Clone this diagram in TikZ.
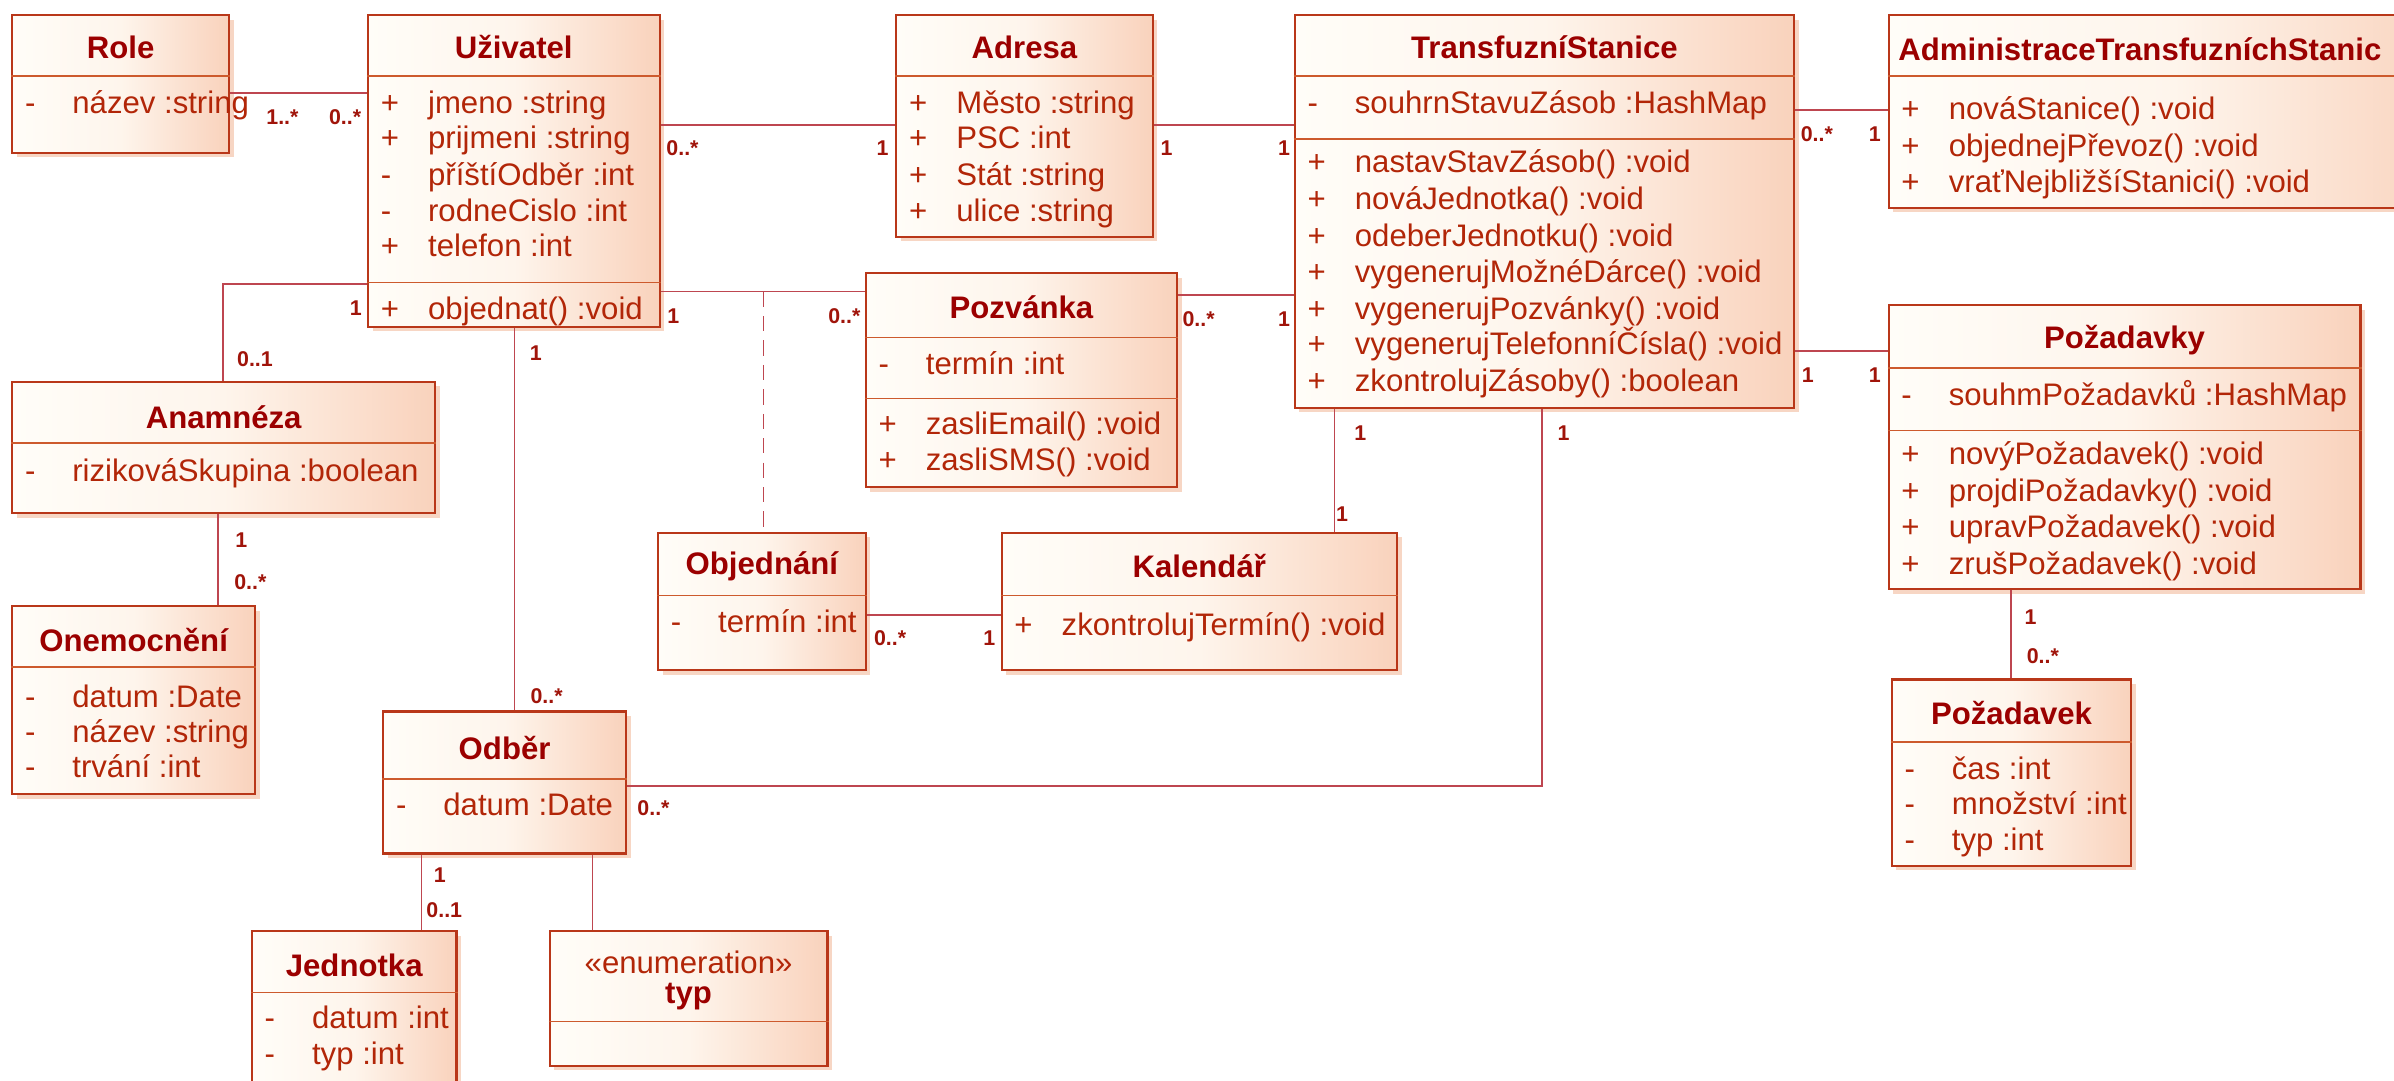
\documentclass[tikz,border=0pt]{standalone}
\usepackage{fontspec}
\setmainfont{Liberation Sans}
\usetikzlibrary{fit,calc}
\definecolor{boxborder}{RGB}{185,55,25}
\definecolor{sepc}{RGB}{205,90,45}
\definecolor{memc}{RGB}{178,38,8}
\definecolor{titlec}{RGB}{155,0,0}
\definecolor{linec}{RGB}{190,70,80}
\definecolor{multc}{RGB}{160,20,10}
\definecolor{creamc}{RGB}{255,253,248}
\definecolor{midc}{RGB}{254,245,236}
\definecolor{peachc}{RGB}{249,210,188}
\definecolor{shadowc}{RGB}{247,214,196}
\tikzset{
  classbox/.style={draw=boxborder, line width=0.7pt, inner sep=0pt,
    left color=creamc, right color=peachc, middle color=midc},
  sepline/.style={draw=sepc, line width=0.6pt},
  assoc/.style={draw=linec, line width=0.55pt},
  ctitle/.style={inner sep=0pt, text=titlec, font=\fontsize{10.2}{12}\selectfont\bfseries},
  cstereo/.style={inner sep=0pt, text=memc, font=\fontsize{10.2}{12}\selectfont},
  msign/.style={inner sep=0pt, anchor=west, text height=7.4pt, text depth=2.1pt,
    text=memc, font=\fontsize{10.2}{12}\selectfont},
  mtext/.style={inner sep=0pt, anchor=west, text height=7.4pt, text depth=2.1pt,
    text=memc, font=\fontsize{10.2}{12}\selectfont},
  mult/.style={inner sep=0pt, text=multc, font=\fontsize{7}{8}\selectfont\bfseries},
}
\newcommand\cbox[5]{%
  \fill[shadowc] (#2+3,#3+3) rectangle (#4+3,#5+3);
  \node[classbox, fit={(#2,#3) (#4,#5)}] (#1) {};}
\newcommand\csep[2]{\draw[sepline] (#1.west |- 0,#2) -- (#1.east |- 0,#2);}
\newcommand\mem[5]{\node[msign] (#1s) at (#2,#4) {#3};\node[mtext] (#1t) at (#2+31,#4) {#5};}
\begin{document}
\begin{tikzpicture}[x=0.5pt,y=-0.5pt]
\useasboundingbox (0,0) rectangle (1568,708);
\fill[white] (0,0) rectangle (1568,708);
\clip (0,0) rectangle (1568,708);

% shadows and box bodies
\cbox{role}{8}{10}{150}{100}
\cbox{uziv}{241}{10}{432}{214}
\cbox{adresa}{587}{10}{755}{155}
\cbox{ts}{848}{10}{1175}{267}
\cbox{admin}{1237}{10}{1610}{136}
\cbox{pozad}{1237}{200}{1546}{386}
\cbox{pozadek}{1239}{445}{1396}{567}
\cbox{pozv}{567}{179}{771}{319}
\cbox{anam}{8}{250}{285}{336}
\cbox{onem}{8}{397}{167}{520}
\cbox{objed}{431}{349}{567}{439}
\cbox{kal}{656}{349}{915}{439}
\cbox{odber}{251}{466}{410}{559}
\cbox{jedn}{165}{610}{299}{740}
\cbox{typ}{360}{610}{542}{698}

% ---------- connectors ----------
\draw[assoc] (role.east |- 0,61) -- (uziv.west |- 0,61);
\draw[assoc] (uziv.east |- 0,82) -- (adresa.west |- 0,82);
\draw[assoc] (adresa.east |- 0,82) -- (ts.west |- 0,82);
\draw[assoc] (ts.east |- 0,72) -- (admin.west |- 0,72);
\draw[assoc] (uziv.east |- 0,191) -- (pozv.west |- 0,191);
\draw[assoc] (pozv.east |- 0,193) -- (ts.west |- 0,193);
\draw[assoc] (ts.east |- 0,230) -- (pozad.west |- 0,230);
\draw[assoc] (uziv.west |- 0,186) -| (anam.north -| 146,0);
\draw[assoc] (uziv.south -| 337,0) -- (odber.north -| 337,0);
\coordinate (ac) at (500,191);
\draw[assoc, dash pattern=on 5pt off 3pt] (ac) -- (objed.north -| ac);
\draw[assoc] (objed.east |- 0,403) -- (kal.west |- 0,403);
\draw[assoc] (ts.south -| 874,0) -- (kal.north -| 874,0);
\draw[assoc] (ts.south -| 1010,0) |- (odber.east |- 0,515);
\draw[assoc] (anam.south -| 143,0) -- (onem.north -| 143,0);
\draw[assoc] (pozad.south -| 1317,0) -- (pozadek.north -| 1317,0);
\draw[assoc] (odber.south -| 276,0) -- (jedn.north -| 276,0);
\draw[assoc] (odber.south -| 388,0) -- (typ.north -| 388,0);

% ---------- multiplicities ----------
\node[mult] (m1) at (185,77) {1..*};
\node[mult] (m2) at (226,77) {0..*};
\node[mult] (m3) at (447,97) {0..*};
\node[mult] (m4) at (578,97) {1};
\node[mult] (m5) at (764,97) {1};
\node[mult] (m6) at (841,97) {1};
\node[mult] (m7) at (1190,88) {0..*};
\node[mult] (m8) at (1228,88) {1};
\node[mult] (m9) at (441,207) {1};
\node[mult] (m10) at (553,207) {0..*};
\node[mult] (m11) at (785,209) {0..*};
\node[mult] (m12) at (841,209) {1};
\node[mult] (m13) at (1184,246) {1};
\node[mult] (m14) at (1228,246) {1};
\node[mult] (m15) at (233,202) {1};
\node[mult] (m16) at (167,235) {0..1};
\node[mult] (m17) at (351,231) {1};
\node[mult] (m18) at (358,456) {0..*};
\node[mult] (m19) at (583,418) {0..*};
\node[mult] (m20) at (648,418) {1};
\node[mult] (m21) at (891,284) {1};
\node[mult] (m22) at (879,337) {1};
\node[mult] (m23) at (1024,284) {1};
\node[mult] (m24) at (428,529) {0..*};
\node[mult] (m25) at (158,354) {1};
\node[mult] (m26) at (164,381) {0..*};
\node[mult] (m27) at (1330,404) {1};
\node[mult] (m28) at (1338,430) {0..*};
\node[mult] (m29) at (288,573) {1};
\node[mult] (m30) at (291,596) {0..1};

% ---------- Role ----------
\node[ctitle] (roleT) at (79,31) {Role};
\csep{role}{50}
\mem{roleA}{16}{-}{69}{název :string}

% ---------- Uživatel ----------
\node[ctitle] (uzivT) at (336.5,31) {Uživatel};
\csep{uziv}{50}
\mem{uzivA}{249}{+}{69}{jmeno :string}
\mem{uzivB}{249}{+}{92}{prijmeni :string}
\mem{uzivC}{249}{-}{116}{příštíOdběr :int}
\mem{uzivD}{249}{-}{140}{rodneCislo :int}
\mem{uzivE}{249}{+}{163}{telefon :int}
\csep{uziv}{185}
\mem{uzivF}{249}{+}{204}{objednat() :void}

% ---------- Adresa ----------
\node[ctitle] (adresaT) at (671,31) {Adresa};
\csep{adresa}{50}
\mem{adrA}{595}{+}{69}{Město :string}
\mem{adrB}{595}{+}{92}{PSC :int}
\mem{adrC}{595}{+}{116}{Stát :string}
\mem{adrD}{595}{+}{140}{ulice :string}

% ---------- TransfuzniStanice ----------
\node[ctitle] (tsT) at (1011.5,31) {TransfuzníStanice};
\csep{ts}{50}
\mem{tsA}{856}{-}{69}{souhrnStavuZásob :HashMap}
\csep{ts}{91}
\mem{tsB}{856}{+}{108}{nastavStavZásob() :void}
\mem{tsC}{856}{+}{132}{nováJednotka() :void}
\mem{tsD}{856}{+}{156}{odeberJednotku() :void}
\mem{tsE}{856}{+}{180}{vygenerujMožnéDárce() :void}
\mem{tsF}{856}{+}{204}{vygenerujPozvánky() :void}
\mem{tsG}{856}{+}{227}{vygenerujTelefonníČísla() :void}
\mem{tsH}{856}{+}{251}{zkontrolujZásoby() :boolean}

% ---------- Administrace ----------
\node[ctitle, anchor=west] (adminT) at (1243,32) {AdministraceTransfuzníchStanic};
\csep{admin}{50}
\mem{admA}{1245}{+}{73}{nováStanice() :void}
\mem{admB}{1245}{+}{97}{objednejPřevoz() :void}
\mem{admC}{1245}{+}{121}{vraťNejbližšíStanici() :void}

% ---------- Pozadavky ----------
\node[ctitle] (pozadT) at (1391.5,223) {Požadavky};
\csep{pozad}{241}
\mem{pzA}{1245}{-}{260}{souhmPožadavků :HashMap}
\csep{pozad}{282}
\mem{pzB}{1245}{+}{299}{novýPožadavek() :void}
\mem{pzC}{1245}{+}{323}{projdiPožadavky() :void}
\mem{pzD}{1245}{+}{347}{upravPožadavek() :void}
\mem{pzE}{1245}{+}{371}{zrušPožadavek() :void}

% ---------- Pozadavek ----------
\node[ctitle] (pozadekT) at (1317.5,467) {Požadavek};
\csep{pozadek}{486}
\mem{pkA}{1247}{-}{505}{čas :int}
\mem{pkB}{1247}{-}{528}{množství :int}
\mem{pkC}{1247}{-}{552}{typ :int}

% ---------- Pozvanka ----------
\node[ctitle] (pozvT) at (669,201) {Pozvánka};
\csep{pozv}{221}
\mem{pvA}{575}{-}{240}{termín :int}
\csep{pozv}{261}
\mem{pvB}{575}{+}{279}{zasliEmail() :void}
\mem{pvC}{575}{+}{303}{zasliSMS() :void}

% ---------- Anamneza ----------
\node[ctitle] (anamT) at (146.5,273) {Anamnéza};
\csep{anam}{290}
\mem{anA}{16}{-}{310}{rizikováSkupina :boolean}

% ---------- Onemocneni ----------
\node[ctitle] (onemT) at (87.5,419) {Onemocnění};
\csep{onem}{437}
\mem{onA}{16}{-}{458}{datum :Date}
\mem{onB}{16}{-}{481}{název :string}
\mem{onC}{16}{-}{504}{trvání :int}

% ---------- Objednani ----------
\node[ctitle] (objedT) at (499,371) {Objednání};
\csep{objed}{390}
\mem{obA}{439}{-}{409}{termín :int}

% ---------- Kalendar ----------
\node[ctitle] (kalT) at (785.5,371) {Kalendář};
\csep{kal}{390}
\mem{kaA}{664}{+}{411}{zkontrolujTermín() :void}

% ---------- Odber ----------
\node[ctitle] (odberT) at (330.5,490) {Odběr};
\csep{odber}{510}
\mem{odA}{259}{-}{529}{datum :Date}

% ---------- Jednotka ----------
\node[ctitle] (jednT) at (232,632) {Jednotka};
\csep{jedn}{650}
\mem{jdA}{173}{-}{668}{datum :int}
\mem{jdB}{173}{-}{692}{typ :int}

% ---------- typ (enumeration) ----------
\node[cstereo] (typS) at (451,630) {«enumeration»};
\node[ctitle] (typT) at (451,653) {typ};
\csep{typ}{669}
\end{tikzpicture}
\end{document}
